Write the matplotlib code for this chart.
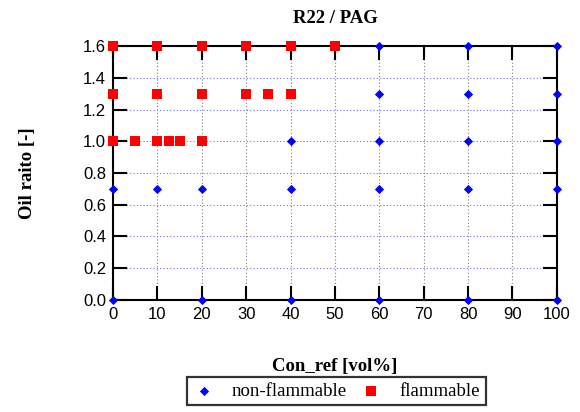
import matplotlib

matplotlib.use("Agg")
import matplotlib.pyplot as plt

# non-flammable points (blue diamonds)
nf_x = [0, 20, 40, 60, 80, 100,
        0, 10, 20, 40, 60, 80, 100,
        40, 60, 80, 100,
        60, 80, 100,
        60, 80, 100]
nf_y = [0.0] * 6 + [0.7] * 7 + [1.0] * 4 + [1.3] * 3 + [1.6] * 3

# flammable points (red squares)
fl_x = [0, 5, 10, 12.5, 15, 20,
        0, 10, 20, 30, 35, 40,
        0, 10, 20, 30, 40, 50]
fl_y = [1.0] * 6 + [1.3] * 6 + [1.6] * 6

x_ticks = list(range(0, 101, 10))
y_ticks = [0.0, 0.2, 0.4, 0.6, 0.8, 1.0, 1.2, 1.4, 1.6]

serif = ["Liberation Serif", "DejaVu Serif"]
sans = ["Liberation Sans", "DejaVu Sans"]

fig = plt.figure(figsize=(5.8, 4.12), dpi=100)
ax = fig.add_axes([0.195, 0.272, 0.765, 0.616])

for x in x_ticks[1:-1]:
    ax.axvline(x, color="gray", ls=(0, (1, 2)), lw=0.8, zorder=1)
for y in y_ticks[1:-1]:
    ax.axhline(y, color="#6f6fff", ls=(0, (1, 2)), lw=0.8, zorder=1)

ax.scatter(nf_x, nf_y, marker="D", s=22, color="blue", lw=0,
           label="non-flammable", zorder=4, clip_on=False)
ax.scatter(fl_x, fl_y, marker="s", s=60, color="red", lw=0,
           label="flammable", zorder=5, clip_on=False)

ax.set_xlim(0, 100)
ax.set_ylim(0, 1.6)
ax.set_xticks(x_ticks)
ax.set_yticks(y_ticks)
ax.set_yticklabels([f"{v:.1f}" for v in y_ticks])
ax.tick_params(direction="in", length=10, width=1.5, top=True, right=True,
               labelsize=12, pad=5)
for lab in ax.get_xticklabels() + ax.get_yticklabels():
    lab.set_family(sans)
for sp in ax.spines.values():
    sp.set_linewidth(1.5)

ax.set_title("R22 / PAG", fontsize=13.5, fontweight="bold", family=serif, pad=17)
ax.set_xlabel("Con_ref [vol%]", fontsize=13.5, fontweight="bold", family=serif,
              labelpad=26)
ax.set_ylabel("Oil raito [-]", fontsize=13.5, fontweight="bold", family=serif,
              labelpad=34)

leg = ax.legend(loc="upper center", bbox_to_anchor=(0.503, -0.303), ncol=2,
                frameon=True, fancybox=False, edgecolor="black",
                prop={"family": serif, "size": 13.5}, handletextpad=0.9,
                columnspacing=0.7, borderpad=0.3, handlelength=1.2,
                borderaxespad=0)
leg.get_frame().set_linewidth(1.6)

fig.savefig("out.png", dpi=100)
